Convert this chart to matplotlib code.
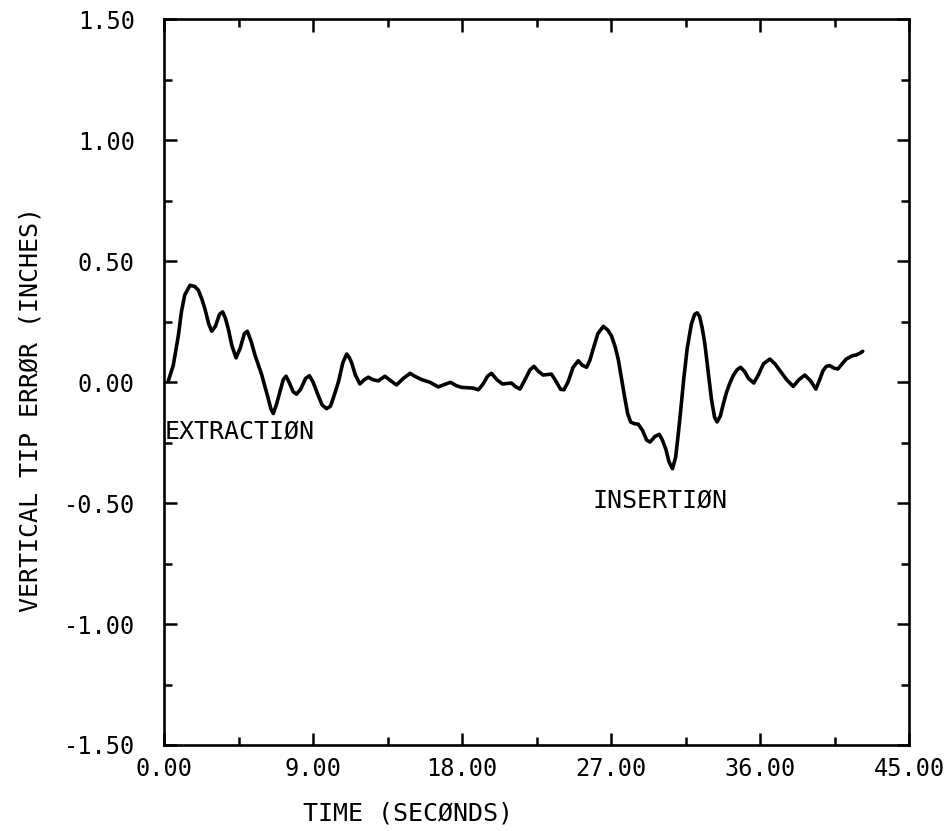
import matplotlib
matplotlib.use("Agg")
import matplotlib.pyplot as plt
from matplotlib.ticker import MultipleLocator, FixedLocator

# Vertical tip error trace (time in seconds, error in inches)
time_s = [
    0.26, 0.56, 0.86, 1.05, 1.25, 1.57, 1.85, 2.07, 2.30, 2.48, 2.70, 2.88,
    3.10, 3.35, 3.54, 3.70, 3.88, 4.10, 4.35, 4.60, 4.85, 5.03, 5.25, 5.50,
    5.70, 5.90, 6.10, 6.30, 6.45, 6.60, 6.80, 7.00, 7.20, 7.37, 7.55, 7.80,
    8.00, 8.25, 8.55, 8.78, 9.00, 9.32, 9.55, 9.82, 10.05, 10.30, 10.53,
    10.80, 11.03, 11.20, 11.33, 11.55, 11.83, 12.10, 12.34, 12.60, 12.94,
    13.34, 13.70, 14.04, 14.45, 14.86, 15.20, 15.57, 16.06, 16.56, 16.95,
    17.30, 17.65, 17.97, 18.67, 18.98, 19.25, 19.55, 19.78, 20.10, 20.44,
    20.98, 21.25, 21.50, 21.80, 22.10, 22.34, 22.60, 22.90, 23.40, 23.70,
    23.95, 24.15, 24.40, 24.70, 25.02, 25.25, 25.52, 25.72, 25.92, 26.20,
    26.53, 26.80, 27.03, 27.25, 27.43, 27.64, 27.84, 28.00, 28.18, 28.40,
    28.64, 28.90, 29.15, 29.35, 29.65, 29.91, 30.10, 30.31, 30.50, 30.71,
    30.90, 31.05, 31.20, 31.40, 31.60, 31.85, 32.05, 32.20, 32.35, 32.50,
    32.66, 32.85, 33.06, 33.25, 33.40, 33.60, 33.80, 33.97, 34.17, 34.37,
    34.60, 34.82, 35.05, 35.30, 35.62, 35.90, 36.20, 36.59, 36.90, 37.20,
    37.60, 38.00, 38.35, 38.70, 39.05, 39.37, 39.60, 39.80, 40.00, 40.20,
    40.45, 40.70, 40.95, 41.20, 41.58, 41.80, 42.00, 42.20,
]
tip_error_in = [
    0.005, 0.07, 0.19, 0.29, 0.36, 0.40, 0.395, 0.38, 0.34, 0.30, 0.24, 0.21,
    0.23, 0.28, 0.29, 0.265, 0.22, 0.15, 0.10, 0.14, 0.20, 0.21, 0.17, 0.11,
    0.07, 0.03, -0.02, -0.07, -0.11, -0.13, -0.09, -0.04, 0.01, 0.024, 0.0,
    -0.04, -0.05, -0.03, 0.015, 0.026, 0.0, -0.057, -0.095, -0.11, -0.10,
    -0.05, 0.0, 0.08, 0.116, 0.10, 0.08, 0.03, -0.008, 0.01, 0.02, 0.01,
    0.005, 0.024, 0.005, -0.012, 0.015, 0.036, 0.022, 0.01, -0.001, -0.02,
    -0.01, -0.001, -0.015, -0.022, -0.025, -0.032, -0.01, 0.025, 0.036, 0.01,
    -0.008, -0.004, -0.02, -0.029, 0.01, 0.05, 0.065, 0.045, 0.029, 0.033,
    0.0, -0.03, -0.032, 0.0, 0.06, 0.088, 0.07, 0.061, 0.09, 0.137, 0.20,
    0.23, 0.215, 0.19, 0.145, 0.095, 0.01, -0.07, -0.13, -0.165, -0.172,
    -0.174, -0.20, -0.24, -0.248, -0.225, -0.216, -0.24, -0.278, -0.33,
    -0.358, -0.31, -0.22, -0.12, 0.02, 0.14, 0.24, 0.28, 0.286, 0.27, 0.225,
    0.16, 0.05, -0.07, -0.145, -0.165, -0.14, -0.085, -0.043, -0.005, 0.026,
    0.05, 0.061, 0.045, 0.015, -0.004, 0.03, 0.075, 0.095, 0.075, 0.047,
    0.01, -0.018, 0.01, 0.029, 0.005, -0.029, 0.01, 0.047, 0.065, 0.068,
    0.058, 0.054, 0.075, 0.095, 0.109, 0.112, 0.118, 0.127,
]

x_ticks = [0, 9, 18, 27, 36, 45]
x_tick_labels = ["0.00", "9.00", "18.00", "27.00", "36.00", "45.00"]
y_ticks = [-1.5, -1.0, -0.5, 0.0, 0.5, 1.0, 1.5]
y_tick_labels = ["-1.50", "-1.00", "-0.50", "0.00", "0.50", "1.00", "1.50"]

FONT = "DejaVu Sans Mono"

fig = plt.figure(figsize=(9.46, 8.31), dpi=100)
ax = fig.add_axes([0.1734, 0.1035, 0.7876, 0.8735])

ax.plot(time_s, tip_error_in, color="black", lw=2.6,
        solid_joinstyle="round", solid_capstyle="round")

ax.set_xlim(0, 45)
ax.set_ylim(-1.5, 1.5)

ax.xaxis.set_major_locator(FixedLocator(x_ticks))
ax.yaxis.set_major_locator(FixedLocator(y_ticks))
ax.xaxis.set_minor_locator(MultipleLocator(4.5))
ax.yaxis.set_minor_locator(MultipleLocator(0.25))
ax.set_xticklabels(x_tick_labels, family=FONT, fontsize=17)
ax.set_yticklabels(y_tick_labels, family=FONT, fontsize=17)

ax.tick_params(which="both", direction="in", top=True, right=True,
               color="black", width=1.8)
ax.tick_params(which="major", length=9)
ax.tick_params(which="minor", length=5.5)
ax.tick_params(axis="x", which="major", pad=9)
ax.tick_params(axis="y", which="major", pad=21)

for sp in ax.spines.values():
    sp.set_linewidth(1.9)
    sp.set_color("black")

ax.text(0.05, -0.205, "EXTRACTIØN", family=FONT, fontsize=18,
        ha="left", va="center")
ax.text(25.9, -0.49, "INSERTIØN", family=FONT, fontsize=18,
        ha="left", va="center")

fig.text(408 / 946, 1 - 814 / 831, "TIME (SECØNDS)", family=FONT,
         fontsize=18, ha="center", va="center")
fig.text(31 / 946, 1 - 410 / 831, "VERTICAL TIP ERRØR (INCHES)",
         family=FONT, fontsize=18, ha="center", va="center", rotation=90)

fig.savefig("out.png", dpi=100, facecolor="white")
